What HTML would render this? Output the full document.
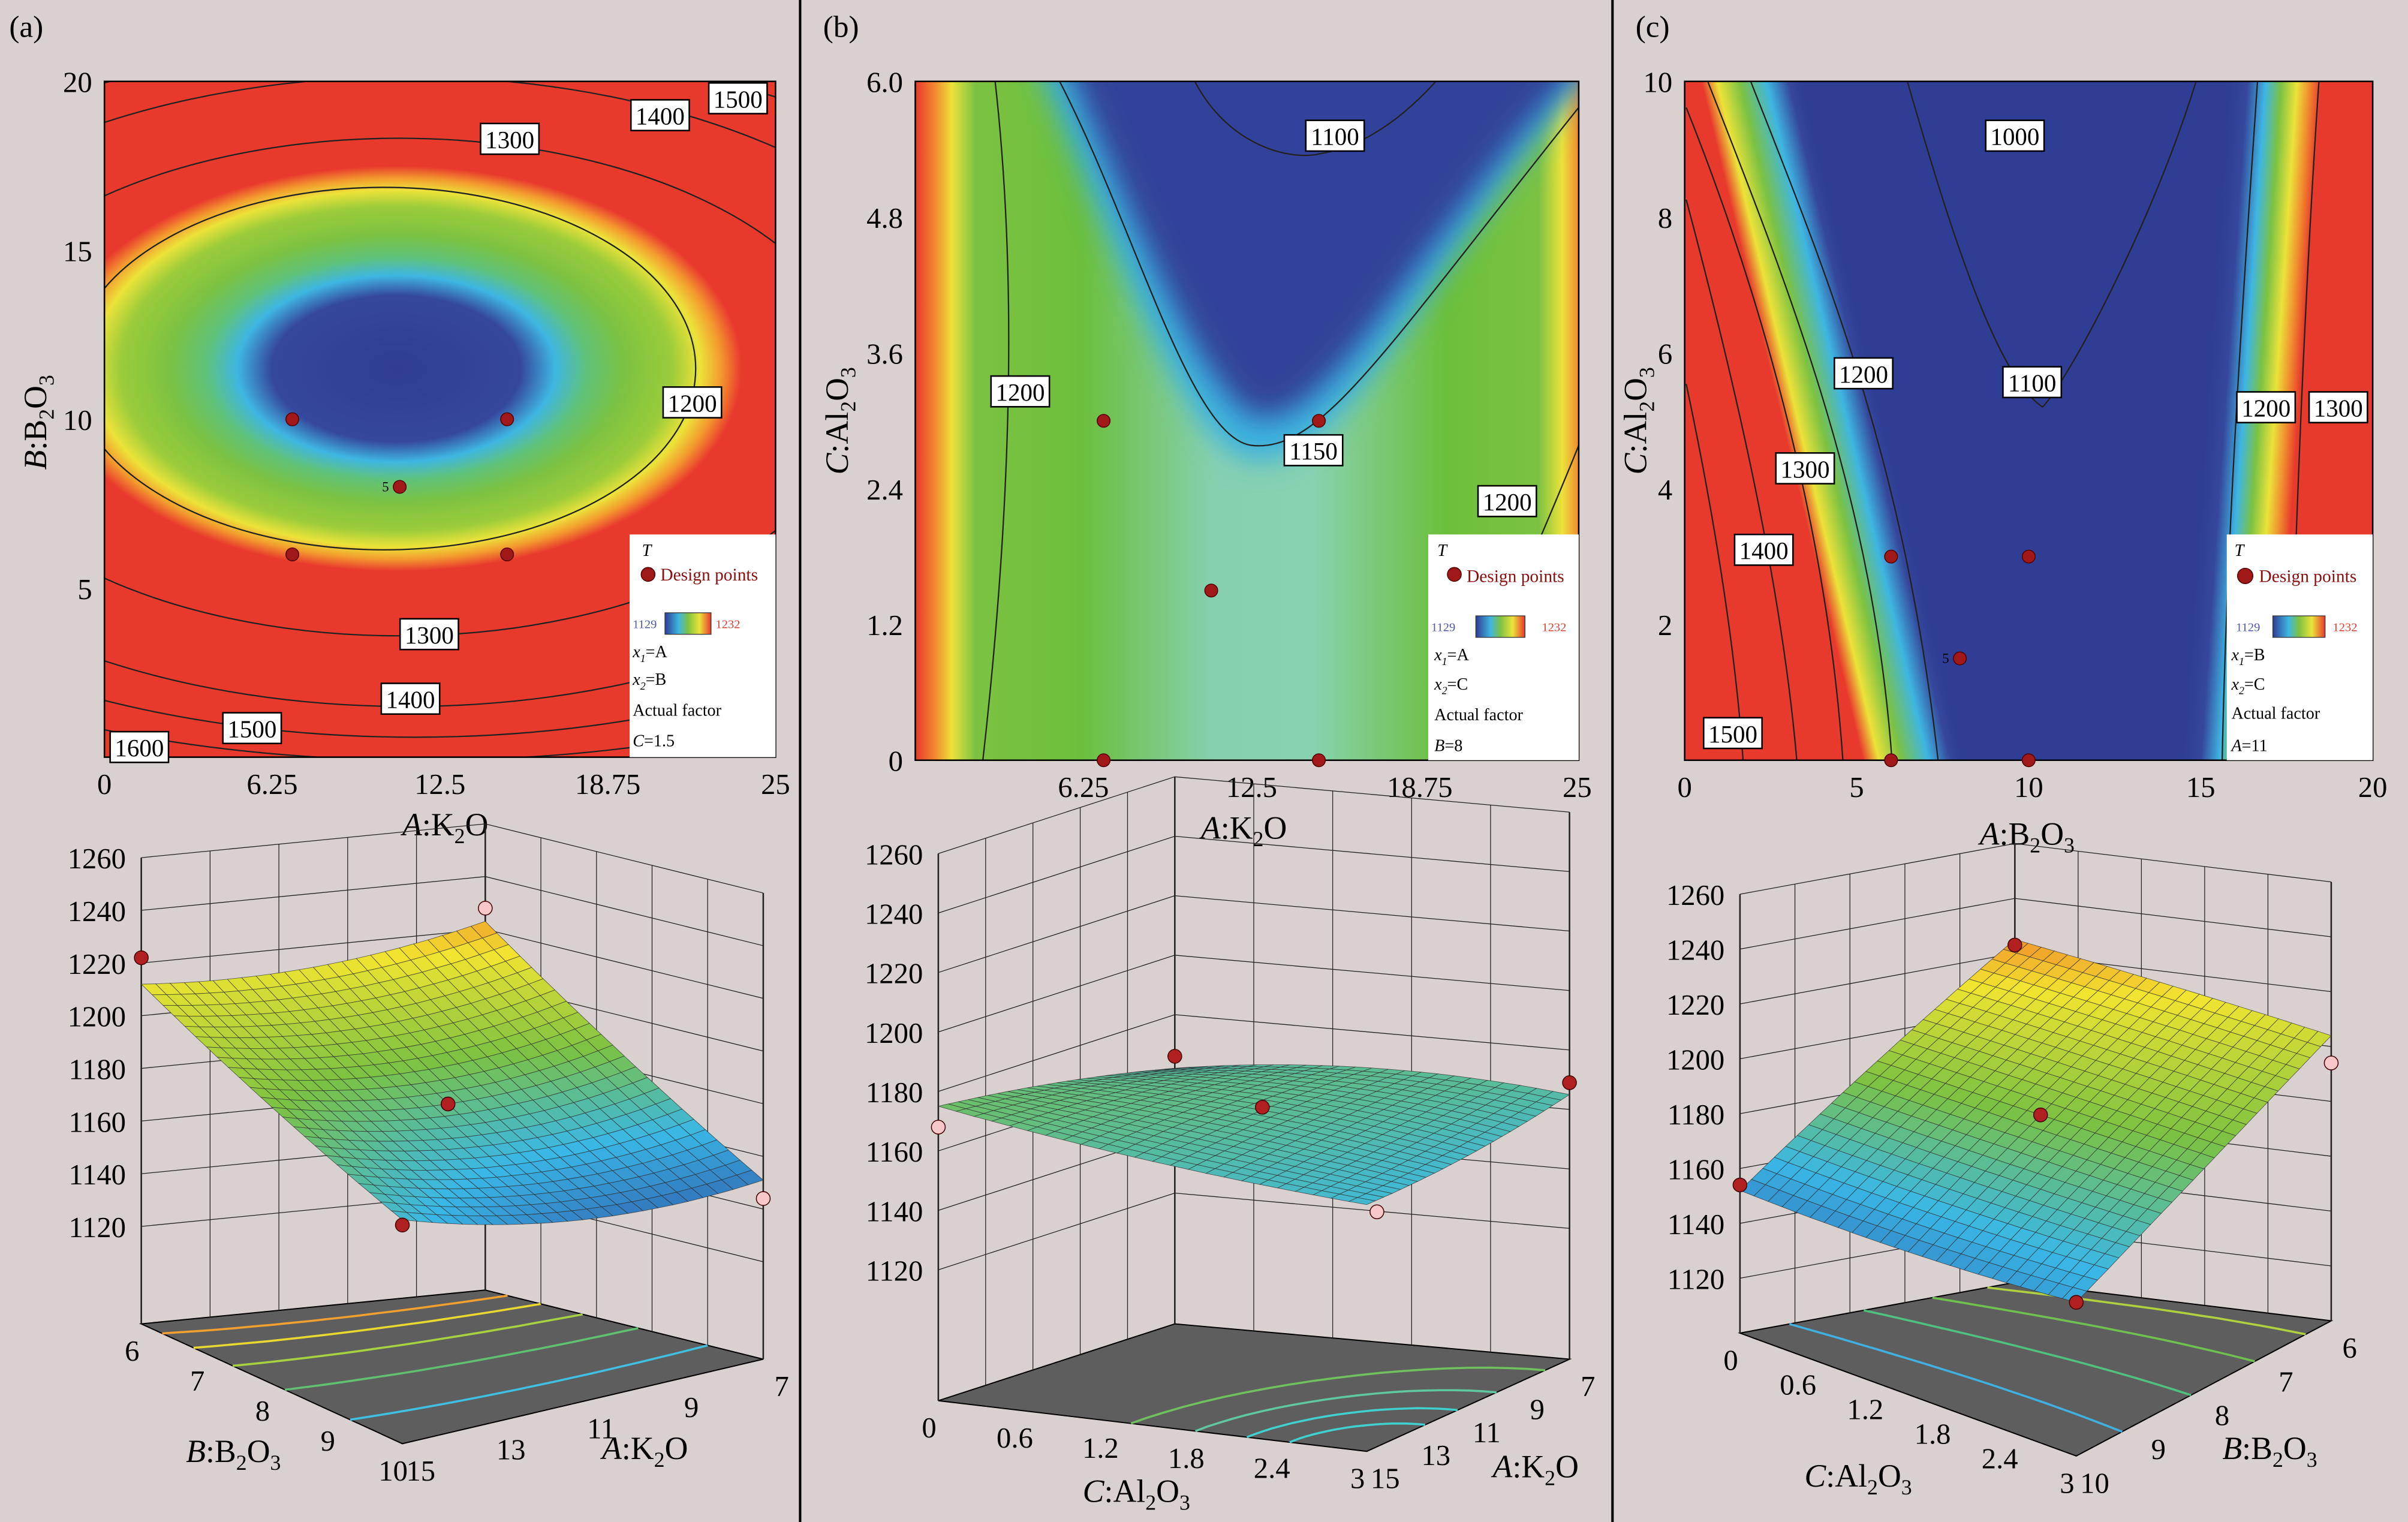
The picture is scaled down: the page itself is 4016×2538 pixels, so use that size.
<!DOCTYPE html>
<html><head><meta charset="utf-8"><style>
html,body{margin:0;padding:0;background:#d9d1cf;}
svg{display:block;font-family:"Liberation Serif",serif;}
</style></head><body>
<svg id="fig" xmlns="http://www.w3.org/2000/svg" width="4016" height="2538" viewBox="0 0 1568 991" preserveAspectRatio="none">
<defs>
<radialGradient id="gA" cx="0.5" cy="0.5" r="0.5">
<stop offset="0" stop-color="#2f3d94"/><stop offset="0.36" stop-color="#35479c"/><stop offset="0.46" stop-color="#3fb6e2"/><stop offset="0.55" stop-color="#5fc27a"/><stop offset="0.66" stop-color="#7cc242"/><stop offset="0.8" stop-color="#9ccc3a"/><stop offset="0.88" stop-color="#ece33a"/><stop offset="0.94" stop-color="#f39a2e"/><stop offset="1" stop-color="#e8392d"/>
</radialGradient>
<linearGradient id="gB" x1="0" y1="0" x2="1" y2="0">
<stop offset="0" stop-color="#e8392d"/><stop offset="0.03" stop-color="#f08a2e"/><stop offset="0.055" stop-color="#ece33a"/><stop offset="0.09" stop-color="#7cc242"/><stop offset="0.25" stop-color="#6cbf3c"/><stop offset="0.45" stop-color="#86d0b0"/><stop offset="0.6" stop-color="#88d2b0"/><stop offset="0.8" stop-color="#6cbf3c"/><stop offset="0.94" stop-color="#7cc242"/><stop offset="0.975" stop-color="#ece33a"/><stop offset="1" stop-color="#f08a2e"/>
</linearGradient>
<radialGradient id="gBc" cx="1" cy="1" r="1">
<stop offset="0" stop-color="#e8392d"/><stop offset="0.25" stop-color="#f08a2e"/><stop offset="0.4" stop-color="#ece33a" stop-opacity="0.8"/><stop offset="0.6" stop-color="#7cc242" stop-opacity="0"/>
</radialGradient>
<linearGradient id="gCL" gradientUnits="userSpaceOnUse" x1="1080" y1="0" x2="1160" y2="0" gradientTransform="skewX(13.4)">
<stop offset="0" stop-color="#e8392d"/><stop offset="0.19" stop-color="#e8392d"/><stop offset="0.32" stop-color="#ece33a"/><stop offset="0.5" stop-color="#7cc242"/><stop offset="0.72" stop-color="#3fb6e2"/><stop offset="0.9" stop-color="#35479c"/><stop offset="1" stop-color="#2f3d94"/>
</linearGradient>
<linearGradient id="gCR" gradientUnits="userSpaceOnUse" x1="1455" y1="0" x2="1515" y2="0" gradientTransform="skewX(-3.9)">
<stop offset="0" stop-color="#2f3d94"/><stop offset="0.2" stop-color="#35479c"/><stop offset="0.4" stop-color="#3fb6e2"/><stop offset="0.57" stop-color="#7cc242"/><stop offset="0.74" stop-color="#ece33a"/><stop offset="0.88" stop-color="#f08a2e"/><stop offset="1" stop-color="#e8392d"/>
</linearGradient>
<linearGradient id="leg" x1="0" y1="0" x2="1" y2="0">
<stop offset="0" stop-color="#2f3d94"/><stop offset="0.3" stop-color="#3fb6e2"/><stop offset="0.5" stop-color="#7cc242"/><stop offset="0.75" stop-color="#ece33a"/><stop offset="1" stop-color="#e8392d"/>
</linearGradient>
<filter id="blur6" x="-20%" y="-20%" width="140%" height="140%"><feGaussianBlur stdDeviation="9"/></filter>
<clipPath id="cA"><rect x="68" y="53" width="437" height="440"/></clipPath>
<clipPath id="cB"><rect x="596" y="53" width="432" height="442"/></clipPath>
<clipPath id="cC"><rect x="1097" y="53" width="448" height="442"/></clipPath>
</defs>

<rect x="0" y="0" width="1568" height="991" fill="#d9d1cf"/>
<line x1="521" y1="0" x2="521" y2="991" stroke="#000" stroke-width="1.6"/>
<line x1="1050" y1="0" x2="1050" y2="991" stroke="#000" stroke-width="1.6"/>
<text x="6" y="24" font-size="20">(a)</text>
<text x="536" y="24" font-size="20">(b)</text>
<text x="1065" y="24" font-size="20">(c)</text>

<g>
<g clip-path="url(#cA)">
<rect x="68" y="53" width="437" height="440" fill="#e8392d"/>
<ellipse cx="258" cy="240" rx="225" ry="132" fill="url(#gA)"/>
<g fill="none" stroke="#222" stroke-width="0.9">
<ellipse cx="250" cy="240" rx="203" ry="118"/>
<ellipse cx="260" cy="252" rx="300" ry="162"/>
<ellipse cx="265" cy="255" rx="380" ry="205"/>
<ellipse cx="270" cy="255" rx="450" ry="225"/>
<ellipse cx="275" cy="255" rx="520" ry="240"/>
</g>
</g>
<rect x="68" y="53" width="437" height="440" fill="none" stroke="#000" stroke-width="1"/>
</g>

<g>
<g clip-path="url(#cB)">
<rect x="596" y="53" width="432" height="442" fill="url(#gB)"/>
<rect x="880" y="260" width="148" height="235" fill="url(#gBc)"/>
<path d="M670,30 C720,140 770,300 820,300 C880,300 930,170 1050,30 Z" fill="#3ab0e0" filter="url(#blur6)"/>
<path d="M690,30 C740,150 790,270 822,272 C870,272 920,160 1040,30 Z" fill="#33439a" filter="url(#blur6)"/>
<g fill="none" stroke="#222" stroke-width="0.9">
<path d="M648,53 C660,160 662,300 640,495"/>
<path d="M1028,290 C1000,360 970,420 950,495"/>
<path d="M690,53 C740,150 775,285 815,290 C860,295 900,230 1028,70"/>
<path d="M778,53 C800,95 840,105 860,100 C890,95 915,75 935,53"/>
</g>
</g>
<rect x="596" y="53" width="432" height="442" fill="none" stroke="#000" stroke-width="1"/>
</g>

<g>
<g clip-path="url(#cC)">
<rect x="1097" y="53" width="448" height="442" fill="#2f3d94"/>
<polygon points="1097,53 1370,53 1370,495 1097,495" fill="url(#gCL)"/>
<polygon points="1380,53 1545,53 1545,495 1380,495" fill="url(#gCR)"/>
<g fill="none" stroke="#222" stroke-width="0.9">
<path d="M1098,70 C1150,200 1190,350 1200,495"/>
<path d="M1112,53 C1170,200 1220,330 1232,495"/>
<path d="M1140,53 C1190,180 1240,300 1262,495"/>
<path d="M1098,130 C1130,250 1160,380 1170,495"/>
<path d="M1098,250 C1115,330 1130,420 1135,495"/>
<path d="M1242,53 C1270,150 1300,245 1330,265 C1345,250 1400,150 1430,53"/>
<path d="M1470,53 C1460,200 1450,350 1447,495"/>
<path d="M1510,53 C1500,200 1495,350 1490,495"/>
</g>
</g>
<rect x="1097" y="53" width="448" height="442" fill="none" stroke="#000" stroke-width="1"/>
</g>

<g>
<rect x="410" y="348" width="95" height="145" fill="#fff"/>
<text x="418" y="362" font-size="11" font-style="italic">T</text>
<circle cx="422" cy="374" r="4.5" fill="#a01818" stroke="#500" stroke-width="0.6"/>
<text x="430" y="378" font-size="11.5" fill="#8a1010">Design points</text>
<text x="412" y="409" font-size="8" fill="#5058b0">1129</text>
<rect x="433" y="399" width="30" height="14" fill="url(#leg)" stroke="#333" stroke-width="0.5"/>
<text x="466" y="409" font-size="8" fill="#e04030">1232</text>
<text x="412" y="428" font-size="11" font-style="italic">x<tspan font-size="7" dy="3">1</tspan><tspan dy="-3" font-style="normal">=A</tspan></text>
<text x="412" y="446" font-size="11" font-style="italic">x<tspan font-size="7" dy="3">2</tspan><tspan dy="-3" font-style="normal">=B</tspan></text>
<text x="412" y="466" font-size="11">Actual factor</text>
<text x="412" y="486" font-size="11"><tspan font-style="italic">C</tspan>=1.5</text>
</g>
<g>
<rect x="930" y="348" width="98" height="147" fill="#fff"/>
<text x="936" y="362" font-size="11" font-style="italic">T</text>
<circle cx="947" cy="374" r="4.5" fill="#a01818" stroke="#500" stroke-width="0.6"/>
<text x="955" y="379" font-size="11.5" fill="#8a1010">Design points</text>
<text x="932" y="411" font-size="8" fill="#5058b0">1129</text>
<rect x="961" y="401" width="32" height="14" fill="url(#leg)" stroke="#333" stroke-width="0.5"/>
<text x="1004" y="411" font-size="8" fill="#e04030">1232</text>
<text x="934" y="430" font-size="11" font-style="italic">x<tspan font-size="7" dy="3">1</tspan><tspan dy="-3" font-style="normal">=A</tspan></text>
<text x="934" y="449" font-size="11" font-style="italic">x<tspan font-size="7" dy="3">2</tspan><tspan dy="-3" font-style="normal">=C</tspan></text>
<text x="934" y="469" font-size="11">Actual factor</text>
<text x="934" y="489" font-size="11"><tspan font-style="italic">B</tspan>=8</text>
</g>
<g>
<rect x="1450" y="348" width="95" height="147" fill="#fff"/>
<text x="1455" y="362" font-size="11" font-style="italic">T</text>
<circle cx="1462" cy="375" r="5" fill="#a01818" stroke="#500" stroke-width="0.6"/>
<text x="1471" y="379" font-size="11.5" fill="#8a1010">Design points</text>
<text x="1456" y="411" font-size="8" fill="#5058b0">1129</text>
<rect x="1480" y="401" width="34" height="14" fill="url(#leg)" stroke="#333" stroke-width="0.5"/>
<text x="1519" y="411" font-size="8" fill="#e04030">1232</text>
<text x="1453" y="430" font-size="11" font-style="italic">x<tspan font-size="7" dy="3">1</tspan><tspan dy="-3" font-style="normal">=B</tspan></text>
<text x="1453" y="449" font-size="11" font-style="italic">x<tspan font-size="7" dy="3">2</tspan><tspan dy="-3" font-style="normal">=C</tspan></text>
<text x="1453" y="468" font-size="11">Actual factor</text>
<text x="1453" y="489" font-size="11"><tspan font-style="italic">A</tspan>=11</text>
</g>

<text x="290" y="544" font-size="21" text-anchor="middle"><tspan font-style="italic">A</tspan>:K<tspan font-size="14" dy="5">2</tspan><tspan dy="-5">O</tspan></text>
<text transform="translate(30,275) rotate(-90)" font-size="21" text-anchor="middle"><tspan font-style="italic">B</tspan>:B<tspan font-size="14" dy="5">2</tspan><tspan dy="-5">O</tspan><tspan font-size="14" dy="5">3</tspan></text>
<text x="810" y="546" font-size="21" text-anchor="middle"><tspan font-style="italic">A</tspan>:K<tspan font-size="14" dy="5">2</tspan><tspan dy="-5">O</tspan></text>
<text transform="translate(552,274) rotate(-90)" font-size="21" text-anchor="middle"><tspan font-style="italic">C</tspan>:Al<tspan font-size="14" dy="5">2</tspan><tspan dy="-5">O</tspan><tspan font-size="14" dy="5">3</tspan></text>
<text x="1320" y="550" font-size="21" text-anchor="middle"><tspan font-style="italic">A</tspan>:B<tspan font-size="14" dy="5">2</tspan><tspan dy="-5">O</tspan><tspan font-size="14" dy="5">3</tspan></text>
<text transform="translate(1072,274) rotate(-90)" font-size="21" text-anchor="middle"><tspan font-style="italic">C</tspan>:Al<tspan font-size="14" dy="5">2</tspan><tspan dy="-5">O</tspan><tspan font-size="14" dy="5">3</tspan></text>

<text x="152" y="952" font-size="21" text-anchor="middle"><tspan font-style="italic">B</tspan>:B<tspan font-size="14" dy="5">2</tspan><tspan dy="-5">O</tspan><tspan font-size="14" dy="5">3</tspan></text>
<text x="420" y="950" font-size="21" text-anchor="middle"><tspan font-style="italic">A</tspan>:K<tspan font-size="14" dy="5">2</tspan><tspan dy="-5">O</tspan></text>
<text x="740" y="978" font-size="21" text-anchor="middle"><tspan font-style="italic">C</tspan>:Al<tspan font-size="14" dy="5">2</tspan><tspan dy="-5">O</tspan><tspan font-size="14" dy="5">3</tspan></text>
<text x="1000" y="962" font-size="21" text-anchor="middle"><tspan font-style="italic">A</tspan>:K<tspan font-size="14" dy="5">2</tspan><tspan dy="-5">O</tspan></text>
<text x="1210" y="968" font-size="21" text-anchor="middle"><tspan font-style="italic">C</tspan>:Al<tspan font-size="14" dy="5">2</tspan><tspan dy="-5">O</tspan><tspan font-size="14" dy="5">3</tspan></text>
<text x="1478" y="950" font-size="21" text-anchor="middle"><tspan font-style="italic">B</tspan>:B<tspan font-size="14" dy="5">2</tspan><tspan dy="-5">O</tspan><tspan font-size="14" dy="5">3</tspan></text>

<g id="dyn"></g>
</svg>
<script>
const designA = [[7,10],[15,10],[11,8],[7,6],[15,6]];
const designB = [[7,3],[15,3],[11,1.5],[7,0],[15,0]];
const designC = [[6,3],[10,3],[8,1.5],[6,0],[10,0]];
const xTicksA = [0,6.25,12.5,18.75,25];
const yTicksA = [5,10,15,20];
const xTicksB = [6.25,12.5,18.75,25];
const yTicksB = [0,1.2,2.4,3.6,4.8,6.0];
const xTicksC = [0,5,10,15,20];
const yTicksC = [2,4,6,8,10];
const clabelA = [[15.1,18.3,"1300"],[20.7,19.0,"1400"],[23.6,19.5,"1500"],[21.9,10.5,"1200"],[12.1,3.64,"1300"],[11.4,1.73,"1400"],[5.5,0.86,"1500"],[1.3,0.3,"1600"]];
const clabelB = [[15.6,5.52,"1100"],[14.8,2.74,"1150"],[3.9,3.26,"1200"],[22.0,2.29,"1200"]];
const clabelC = [[9.6,9.2,"1000"],[10.1,5.57,"1100"],[5.2,5.7,"1200"],[3.5,4.3,"1300"],[2.3,3.1,"1400"],[1.4,0.4,"1500"],[16.9,5.2,"1200"],[19.0,5.2,"1300"]];
const surfA = [[1212,1212,1223],[1188,1178,1185],[1168,1152,1151]];
const surfB = [[1175,1170,1162],[1165,1168,1168],[1159,1160,1165]];
const surfC = [[1152,1190,1225],[1152,1185,1215],[1156,1180,1204]];
const pts3A = [[1,0,1228,"#f8c8c8"],[0,0,1222,"#b02020"],[0.5,0.5,1178,"#b02020"],[0,1,1166,"#b02020"],[1,1,1144,"#f8c8c8"]];
const pts3B = [[0,0,1168,"#f8c8c8"],[1,0,1166,"#b02020"],[0.5,0.5,1169,"#b02020"],[0.05,1,1155,"#f8c8c8"],[1,1,1169,"#b02020"]];
const pts3C = [[0,0,1154,"#b02020"],[1,0,1223,"#b02020"],[0.5,0.5,1185,"#b02020"],[0,1,1156,"#b02020"],[1,1,1194,"#f8c8c8"]];
const zTicks = [1120,1140,1160,1180,1200,1220,1240,1260];
const leftTicksA = ["6","7","8","9","10"], rightTicksA = ["15","13","11","9","7"];
const leftTicksB = ["0","0.6","1.2","1.8","2.4","3"], rightTicksB = ["15","13","11","9","7"];
const leftTicksC = ["0","0.6","1.2","1.8","2.4","3"], rightTicksC = ["10","9","8","7","6"];

const NS="http://www.w3.org/2000/svg";
const dyn=document.getElementById('dyn');
function mk(tag,attrs,parent){const e=document.createElementNS(NS,tag);for(const k in attrs)e.setAttribute(k,attrs[k]);(parent||dyn).appendChild(e);return e;}

function lin(d0,d1,r0,r1){return v=>r0+(v-d0)*(r1-r0)/(d1-d0);}
const axes2D=[
 {x:lin(0,25,68,505),y:lin(0,20,493,53),xt:xTicksA,yt:yTicksA,pts:designA,cl:clabelA,yb:493,xl:68,n:'a'},
 {x:lin(0,25,596,1034),y:lin(0,6,495,53),xt:xTicksB,yt:yTicksB,pts:designB,cl:clabelB,yb:495,xl:596,n:'b'},
 {x:lin(0,20,1097,1545),y:lin(0,10,495,53),xt:xTicksC,yt:yTicksC,pts:designC,cl:clabelC,yb:495,xl:1097,n:'c'}
];
axes2D.forEach(a=>{
  a.xt.forEach(v=>{const t=mk('text',{x:Math.min(a.x(v),a.n==='b'?1027:9999),y:a.yb+24,'font-size':19,'text-anchor':'middle'});t.textContent=String(v);
    
    });
  a.yt.forEach(v=>{const t=mk('text',{x:a.xl-8,y:a.y(v)+7,'font-size':19,'text-anchor':'end'});t.textContent=(a.n==='b'?v.toFixed(1).replace('0.0','0'):String(v));
    
    });
  a.pts.forEach((p,i)=>{const c=mk('circle',{cx:a.x(p[0]),cy:a.y(p[1]),r:4.2,fill:'#a01818',stroke:'#500','stroke-width':0.6});
    
    
    if(i===2&&a.n!=='b'){const t=mk('text',{x:a.x(p[0])-7,y:a.y(p[1])+3,'font-size':9,'text-anchor':'end'});t.textContent='5';
      
      }});
  a.cl.forEach(c=>{const cx=a.x(c[0]),cy=a.y(c[1]);
    const g=mk('g',{});
    
    
    mk('rect',{x:cx-19,y:cy-10,width:38,height:20,fill:'#fff',stroke:'#000','stroke-width':1},g);
    const t=mk('text',{x:cx,y:cy+6,'font-size':16,'text-anchor':'middle'},g);t.textContent=c[2];});
});

function cmap(z,lo,hi){let t=Math.max(0,Math.min(1,(z-lo)/(hi-lo)));
 const s=[[0,[43,57,150]],[0.28,[58,183,230]],[0.5,[124,194,66]],[0.75,[242,229,48]],[1,[238,49,36]]];
 for(let i=0;i<s.length-1;i++){if(t<=s[i+1][0]){const f=(t-s[i][0])/(s[i+1][0]-s[i][0]);const a=s[i][1],b=s[i+1][1];
 return 'rgb('+a.map((v,k)=>Math.round(v+(b[k]-v)*f)).join(',')+')';}}return 'rgb(238,49,36)';}
function lag(t){return [2*(t-0.5)*(t-1),-4*t*(t-1),2*t*(t-0.5)];}
function interp(g,u,v){const lu=lag(u),lv=lag(v);let s=0;for(let i=0;i<3;i++)for(let j=0;j<3;j++)s+=lv[i]*lu[j]*g[i][j];return s;}
const panels3=[
 {n:'a',L:[92,862],B:[316,840],F:[262,940],R:[497,885],z0:1083,k:1.715,g:surfA,pts:pts3A,lt:leftTicksA,rt:rightTicksA,lo:1135,hi:1240,
  curves:[[0.08,'#f0a030'],[0.2,'#e8d830'],[0.35,'#a8d040'],[0.55,'#60c070'],[0.8,'#40c0e0']],ctype:'v'},
 {n:'b',L:[611,912],B:[765,862],F:[890,945],R:[1022,885],z0:1076,k:1.936,g:surfB,pts:pts3B,lt:leftTicksB,rt:rightTicksB,lo:1125,hi:1235,
  curves:[[0.18,'#40d0d0'],[0.28,'#40d0d0'],[0.4,'#60c8a0'],[0.55,'#70c060']],ctype:'arc'},
 {n:'c',L:[1133,868],B:[1312,835],F:[1352,948],R:[1518,860],z0:1100,k:1.786,g:surfC,pts:pts3C,lt:leftTicksC,rt:rightTicksC,lo:1130,hi:1240,
  curves:[[0.18,'#40b0e0'],[0.45,'#50c080'],[0.7,'#70c050'],[0.9,'#b0d040']],ctype:'u'}
];
panels3.forEach(p=>{
 const P=(u,v,z)=>{const x=(1-u)*(1-v)*p.L[0]+u*(1-v)*p.B[0]+(1-u)*v*p.F[0]+u*v*p.R[0];
  const y=(1-u)*(1-v)*p.L[1]+u*(1-v)*p.B[1]+(1-u)*v*p.F[1]+u*v*p.R[1];return [x,y-(z-p.z0)*p.k];};
 const grp=mk('g',{});
 
 
 const f=[P(0,0,p.z0),P(1,0,p.z0),P(1,1,p.z0),P(0,1,p.z0)];
 const fl=mk('polygon',{points:f.map(q=>q.join(',')).join(' '),fill:'#5e5e5e',stroke:'#000','stroke-width':0.8},grp);
 
 
 p.curves.forEach(c=>{let d='';for(let i=0;i<=20;i++){const t=i/20;let u,v;
   if(p.ctype==='v'){u=t;v=c[0]+0.12*t*(1-t);} else if(p.ctype==='u'){v=t;u=c[0]+0.1*t*(1-t);} else {const a=t*Math.PI/2;u=c[0]*Math.sin(a)*1.6;v=1-c[0]*Math.cos(a);}
   if(u<0||u>1||v<0||v>1)continue;const q=P(u,v,p.z0);d+=(d?'L':'M')+q[0].toFixed(1)+','+q[1].toFixed(1);}
   const pa=mk('path',{d:d,fill:'none',stroke:c[1],'stroke-width':1.4},grp);
   
   });
 const top=1260;
 for(let i=0;i<=5;i++){const t=i/5;
   let a=P(t,0,p.z0),b=P(t,0,top);const l1=mk('line',{x1:a[0],y1:a[1],x2:b[0],y2:b[1],stroke:'#222','stroke-width':i===0||i===5?1:0.5},grp);
   
   
   a=P(1,t,p.z0);b=P(1,t,top);const l2=mk('line',{x1:a[0],y1:a[1],x2:b[0],y2:b[1],stroke:'#222','stroke-width':i===5?1:0.5},grp);
   
   }
 zTicks.forEach(z=>{const a=P(0,0,z),b=P(1,0,z),c=P(1,1,z);
   const l=mk('polyline',{points:[a,b,c].map(q=>q.join(',')).join(' '),fill:'none',stroke:'#222','stroke-width':0.5},grp);
   
   
   const t=mk('text',{x:a[0]-10,y:a[1]+7,'font-size':19,'text-anchor':'end'},grp);t.textContent=String(z);
   
   });
 p.lt.forEach((s,i)=>{const q=P(0,i/(p.lt.length-1),p.z0);const t=mk('text',{x:q[0]-6,y:q[1]+24,'font-size':19,'text-anchor':'middle'},grp);t.textContent=s;
   
   });
 p.rt.forEach((s,i)=>{const q=P(i/(p.rt.length-1),1,p.z0);const t=mk('text',{x:q[0]+12,y:q[1]+24,'font-size':19,'text-anchor':'middle'},grp);t.textContent=s;
   
   });
 const N=24,quads=[];
 for(let i=0;i<N;i++)for(let j=0;j<N;j++){const u0=i/N,u1=(i+1)/N,v0=j/N,v1=(j+1)/N;
   const zs=[interp(p.g,u0,v0),interp(p.g,u1,v0),interp(p.g,u1,v1),interp(p.g,u0,v1)];
   quads.push({d:(1-(u0+u1)/2)+(v0+v1)/2,pts:[P(u0,v0,zs[0]),P(u1,v0,zs[1]),P(u1,v1,zs[2]),P(u0,v1,zs[3])],z:(zs[0]+zs[1]+zs[2]+zs[3])/4});}
 quads.sort((a,b)=>a.d-b.d);
 const sg=mk('g',{},grp);
 
 
 quads.forEach(q=>{const c=cmap(q.z,p.lo,p.hi);const e=mk('polygon',{points:q.pts.map(r=>r[0].toFixed(1)+','+r[1].toFixed(1)).join(' '),fill:c,stroke:'#2a2a2a','stroke-width':0.35,'stroke-opacity':0.7},sg);
   
   });
 p.pts.forEach(d=>{const q=P(d[0],d[1],d[2]);const c=mk('circle',{cx:q[0],cy:q[1],r:4.5,fill:d[3],stroke:'#400','stroke-width':0.6},grp);
   
   });
});
</script>
</body></html>
